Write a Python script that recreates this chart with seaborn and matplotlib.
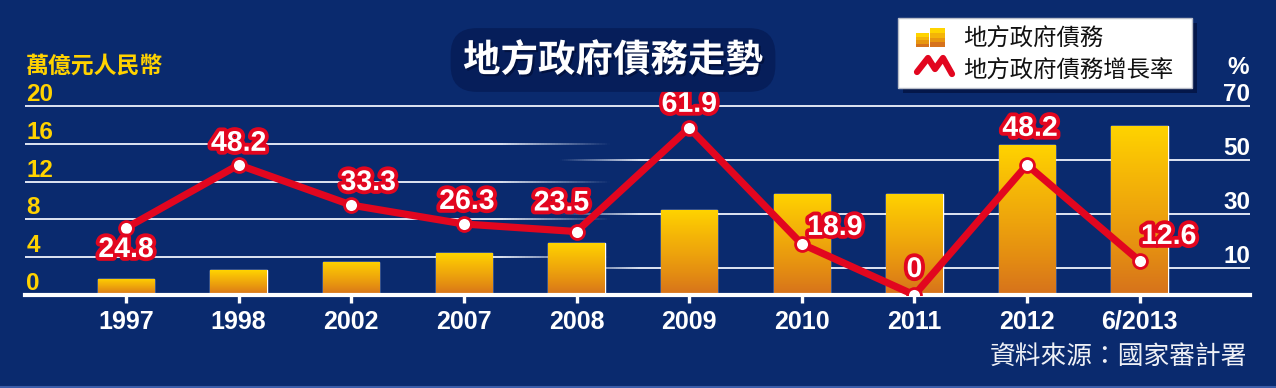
import numpy as np
import pandas as pd
import seaborn as sns
import matplotlib
matplotlib.use("Agg")
import matplotlib.pyplot as plt
from matplotlib import patheffects as pe
from matplotlib.patches import Rectangle
from matplotlib.lines import Line2D
from matplotlib.collections import LineCollection
from matplotlib.colors import LinearSegmentedColormap, to_rgb

# ---------------- data ----------------
years = ['1997', '1998', '2002', '2007', '2008', '2009', '2010', '2011', '2012', '6/2013']
debt = [1.7, 2.6, 3.5, 4.4, 5.5, 9.0, 10.7, 10.7, 15.9, 17.9]          # 萬億元人民幣
growth = [24.8, 48.2, 33.3, 26.3, 23.5, 61.9, 18.9, 0, 48.2, 12.6]     # %
left_ticks = [0, 4, 8, 12, 16, 20]
right_ticks = [10, 30, 50, 70]
series_names = ['地方政府債務', '地方政府債務增長率']
title_text = '地方政府債務走勢'
left_unit = '萬億元人民幣'
right_unit = '%'
source_text = '資料來源：國家審計署'

# label offsets (pixels) for growth value labels
label_offsets = [(0, -22), (0, 21), (17, 22), (3, 22), (-15, 28),
                 (0, 23), (33, 16), (0, 25), (3, 36), (29, 24)]

df = pd.DataFrame({'year': years, 'debt': debt, 'growth': growth})

# ---------------- style ----------------
sns.set_theme(style='white')
plt.rcParams['font.family'] = ['Liberation Sans', 'Noto Sans CJK TC', 'DejaVu Sans']

BG = '#0a2a6e'
RED = '#e2061f'
YELLOW = '#ffd200'
W, H = 1276, 388

fig = plt.figure(figsize=(W / 100, H / 100), dpi=100, facecolor=BG)

AX_L, AX_R, AX_B, AX_T = 25, 1250, 295, 80
GRID_TOP = 106
ax = fig.add_axes([AX_L / W, 1 - AX_B / H, (AX_R - AX_L) / W, (AX_B - AX_T) / H])
ax.set_facecolor('none')
ratio = (AX_B - AX_T) / (AX_B - GRID_TOP)
L_TOP = left_ticks[-1] * ratio
R_TOP = right_ticks[-1] * ratio
XLIM = (-0.897, 9.98)

# ---------------- bars ----------------
sns.barplot(data=df, x='year', y='debt', ax=ax, color='#f0a500', width=0.5,
            saturation=1, zorder=3)
cmap = LinearSegmentedColormap.from_list(
    'bar', ['#d6721c', '#e48d12', '#eea50c', '#f7bb06', '#ffd400'])
grad = np.linspace(0, 1, 256).reshape(-1, 1)
for p in list(ax.patches):
    x0, w, h = p.get_x(), p.get_width(), p.get_height()
    im = ax.imshow(grad, extent=[x0, x0 + w, 0, h], origin='lower', cmap=cmap,
                   aspect='auto', zorder=3.2, interpolation='bilinear')
    im.set_clip_path(p)

# ---------------- line ----------------
ax2 = ax.twinx()
sns.pointplot(data=df, x='year', y='growth', ax=ax2, color=RED, errorbar=None,
              markers='o', linestyles='-')
for ln in ax2.lines:
    ln.set_linewidth(5.2)
    ln.set_markersize(10)
    ln.set_markerfacecolor('white')
    ln.set_markeredgecolor(RED)
    ln.set_markeredgewidth(2)
    ln.set_solid_joinstyle('round')
    ln.set_zorder(5)

for i, (v, off) in enumerate(zip(growth, label_offsets)):
    ax2.annotate(f'{v:g}', (i, v), xytext=off, textcoords='offset pixels',
                 ha='center', va='center', fontsize=20.5, fontweight='bold',
                 color='white', zorder=6, annotation_clip=False,
                 path_effects=[pe.withStroke(linewidth=5.5, foreground=RED)])

# ---------------- axes limits / ticks ----------------
ax.set_xlim(*XLIM)
ax2.set_xlim(*XLIM)
ax.set_ylim(0, L_TOP)
ax2.set_ylim(0, R_TOP)
for a in (ax, ax2):
    a.set_xlabel('')
    a.set_ylabel('')
    for s in a.spines.values():
        s.set_visible(False)
ax.spines['bottom'].set_visible(True)
ax.spines['bottom'].set_color('white')
ax.spines['bottom'].set_linewidth(3)
ax.spines['bottom'].set_zorder(4)

ax.tick_params(axis='x', bottom=True, length=5.5, width=2.4, color='white',
               labelcolor='white', labelsize=18, pad=5)
for lab in ax.get_xticklabels():
    lab.set_fontweight('bold')

ax.set_yticks(left_ticks)
ax.set_yticklabels([str(t) for t in left_ticks])
ax.tick_params(axis='y', left=False, length=0, pad=-1, labelsize=17.5,
               labelcolor=YELLOW)
plt.setp(ax.get_yticklabels(), ha='left', va='bottom', fontweight='bold')

ax2.set_yticks(right_ticks)
ax2.set_yticklabels([str(t) for t in right_ticks])
ax2.tick_params(axis='y', right=False, length=0, pad=0, labelsize=17.5,
                labelcolor='white')
plt.setp(ax2.get_yticklabels(), ha='right', va='bottom', fontweight='bold')

# ---------------- gridlines (drawn behind bars) ----------------
GRID_C = to_rgb('#dfe5f2')

def fx_ax(px):
    return (px - AX_L) / (AX_R - AX_L)

def grid_line(y, px_solid0, px_solid1, px_fade0, px_fade1, n=40):
    """solid between px_solid0..px_solid1, linear fade between px_fade0..px_fade1"""
    segs, cols = [], []
    segs.append([(fx_ax(px_solid0), y), (fx_ax(px_solid1), y)])
    cols.append((*GRID_C, 1.0))
    edges = np.linspace(px_fade0, px_fade1, n + 1)
    for k in range(n):
        a = (k + 0.5) / n
        if px_fade0 < px_solid0:      # fading in toward the solid part
            alpha = a
        else:                         # fading out after the solid part
            alpha = 1 - a
        segs.append([(fx_ax(edges[k]), y), (fx_ax(edges[k + 1]), y)])
        cols.append((*GRID_C, alpha))
    lc = LineCollection(segs, colors=cols, linewidths=1.4, capstyle='butt',
                        transform=ax.get_yaxis_transform(), zorder=1)
    ax.add_collection(lc)

ax.axhline(left_ticks[-1], color=GRID_C, lw=1.4, zorder=1)
for t in left_ticks[1:-1]:
    grid_line(t, AX_L, 500, 500, 610)
conv = L_TOP / R_TOP
for t in right_ticks[:-1]:
    grid_line(t * conv, 640, AX_R, 560, 640)
ax.set_xlim(*XLIM)
ax.set_ylim(0, L_TOP)

# ---------------- texts ----------------
def fx(px):
    return px / W

def fy(py):
    return 1 - py / H

fig.text(fx(26), fy(66), left_unit, ha='left', va='center', fontsize=16.5,
         fontweight='bold', color=YELLOW, family=['Noto Sans CJK TC', 'DejaVu Sans'])
fig.text(fx(1249), fy(67), right_unit, ha='right', va='center', fontsize=17.5,
         fontweight='bold', color='white')

fig.text(fx(613), fy(60), title_text, ha='center', va='center', fontsize=27,
         fontweight='bold', color='white', family=['Noto Sans CJK TC', 'DejaVu Sans'],
         bbox=dict(boxstyle='round,pad=0.33,rounding_size=0.7', fc='#061e5a', ec='none'),
         path_effects=[pe.withSimplePatchShadow(offset=(1.5, -1.5), shadow_rgbFace='#000a30', alpha=0.6)])

fig.text(fx(1247), fy(357), source_text, ha='right', va='center', fontsize=18.5,
         fontweight='light', color='#eef0f6', family=['Noto Sans CJK TC', 'DejaVu Sans'])

# ---------------- legend (drawn) ----------------
T = fig.transFigure
fig.add_artist(Rectangle((fx(903), fy(93)), 294 / W, 70 / H, fc='#04174a',
                         ec='none', transform=T, zorder=8))
fig.add_artist(Rectangle((fx(898), fy(88)), 294 / W, 70 / H, fc='white',
                         ec='#b9bdc9', lw=1, transform=T, zorder=9))
icon_cols = ['#d6721c', '#e8960f', '#f4b408', '#ffd400']
for (bx0, bx1, by_top) in [(916, 929, 33), (930, 945, 28)]:
    n = len(icon_cols)
    hh = (47 - by_top) / n
    for k, c in enumerate(icon_cols):
        fig.add_artist(Rectangle((fx(bx0), fy(47 - k * hh)), (bx1 - bx0) / W, hh / H,
                                 fc=c, ec='none', transform=T, zorder=10))
zx = [917, 928, 935, 943, 952]
zy = [72, 58, 69, 58, 74]
fig.add_artist(Line2D([fx(v) for v in zx], [fy(v) for v in zy], color=RED, lw=4.5,
                      solid_joinstyle='round', solid_capstyle='round',
                      transform=T, zorder=10))
for name, yy in zip(series_names, [38.5, 70.5]):
    fig.text(fx(963), fy(yy), name, ha='left', va='center', fontsize=16.8,
             color='#111111', family=['Noto Sans CJK TC', 'DejaVu Sans'], zorder=10)

fig.add_artist(Line2D([0, 1], [fy(386.5)] * 2, color='#3b5ca8', lw=1.5, transform=T))

fig.savefig('out.png', dpi=100, facecolor=BG)
